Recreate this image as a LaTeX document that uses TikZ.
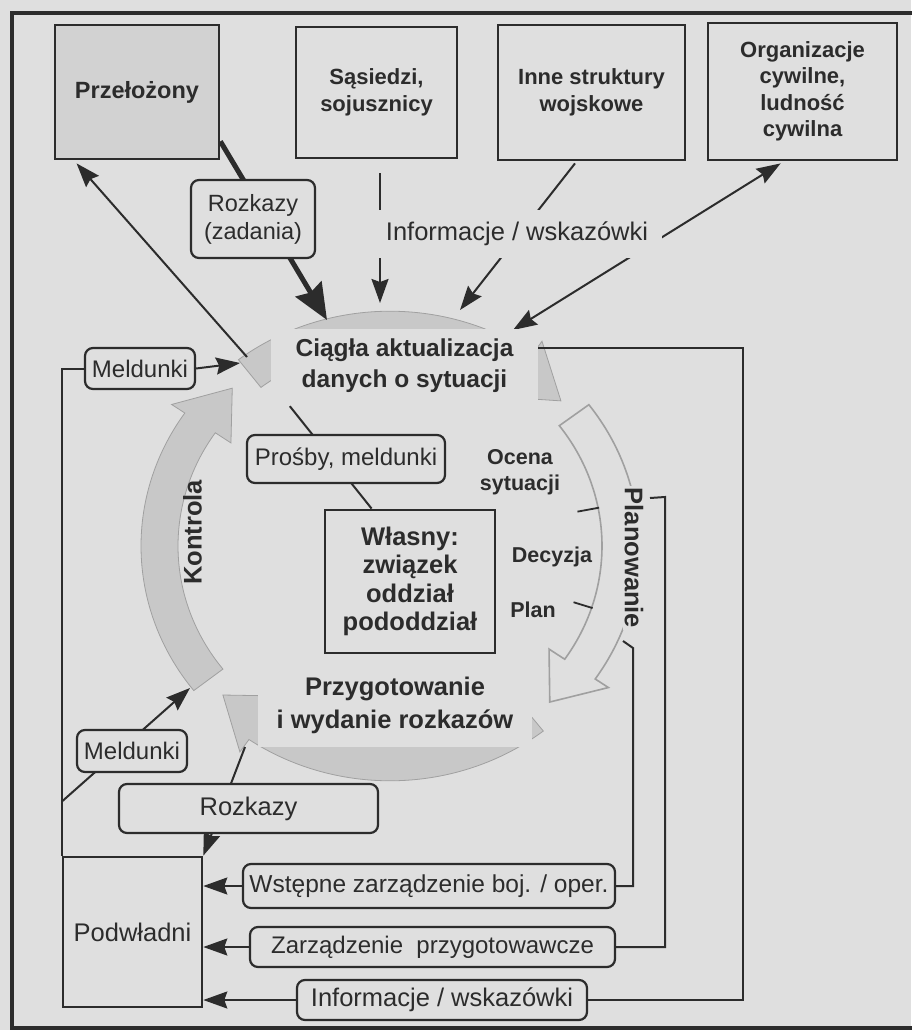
\documentclass[tikz,border=0pt]{standalone}
\usepackage{fontspec}
\setmainfont{Liberation Sans}
\usetikzlibrary{arrows.meta,calc}
\definecolor{paper}{HTML}{DFDFDF}
\definecolor{boss}{HTML}{D2D2D2}
\definecolor{ink}{HTML}{2C2C2C}
\definecolor{ringfill}{HTML}{C8C8C8}
\definecolor{ringedge}{HTML}{A0A0A0}
\newcommand\fsz[2]{\fontsize{#1}{#2}\selectfont}
% one block arrow of the command cycle: tail angle, barb angle, tip angle, style
\newcommand\ringpiece[4]{%
  \path[#4] (#1:212) arc[start angle=#1, end angle=#2, radius=212]
    -- (#2:193) -- (#3:230) -- (#2:265) -- (#2:249)
    arc[start angle=#2, end angle=#1, radius=249] -- cycle;}
\pgfdeclarelayer{paperlayer}
\pgfdeclarelayer{ringlayer}
\pgfdeclarelayer{linklayer}
\pgfsetlayers{paperlayer,ringlayer,linklayer,main}

\begin{document}
\begin{tikzpicture}[x=1pt,y=-1pt,
  every node/.style={text=ink, inner sep=0pt, align=center},
  actor/.style={draw=ink, line width=2.8pt, fill=paper, font=\bfseries\fsz{22}{26.5}},
  tag/.style={draw=ink, line width=2.2pt, rounded corners=8pt, fill=paper, font=\fsz{24}{28}},
  cover/.style={fill=paper, font=\bfseries\fsz{24.5}{31}},
  phase/.style={font=\bfseries\fsz{21.5}{26}},
  link/.style={draw=ink, line width=2pt},
  tipthin/.tip={Stealth[length=24pt,width=17pt,inset=3pt]},
  flow/.style={link, -tipthin},
  flowboth/.style={link, tipthin-tipthin},
  heavy/.style={draw=ink, line width=5pt, -{Stealth[length=36pt,width=30pt,inset=4pt]}},
  ring/.style={fill=ringfill, draw=ringedge, line width=0.8pt},
  ringline/.style={draw=ringedge, line width=1.6pt, fill=paper},
  tick/.style={draw=ink, line width=1.8pt},
]
\useasboundingbox (0,0) rectangle (911,1030);
\begin{pgfonlayer}{paperlayer}
  \fill[paper] (0,0) rectangle (911,1030);
\end{pgfonlayer}

% the command cycle
\begin{pgfonlayer}{ringlayer}
\begin{scope}[shift={(390,546)}, yscale=0.943]
  \ringpiece{-127.5}{-55}{-42}{ring}
  \ringpiece{-37}{34.5}{46}{ringline}
  \ringpiece{52}{124.5}{136.6}{ring}
  \ringpiece{142}{214.5}{226.7}{ring}
  \draw[tick] (-11:191) -- (-11:213);
  \draw[tick] (18:193) -- (18:213);
\end{scope}
\end{pgfonlayer}

% outer frame
\draw[ink, line width=3.5pt] (12,13) rectangle (935,1028);

% outside actors
\node[actor, fill=boss, font=\bfseries\fsz{23.5}{28}, minimum width=164pt, minimum height=134pt] (sup) at (137,92) {Przełożony};
\node[actor, minimum width=161pt, minimum height=131pt] (nbr) at (376.5,92.5) {Sąsiedzi,\\sojusznicy};
\node[actor, minimum width=187pt, minimum height=135pt] (mil) at (591.5,92.5) {Inne struktury\\wojskowe};
\node[actor, minimum width=189pt, minimum height=137pt] (civ) at (802.5,91.5) {Organizacje\\cywilne,\\ludność\\cywilna};

% cycle labels
\node[cover, minimum width=267pt, minimum height=73pt] (ciag) at (404.5,365.5) {Ciągła aktualizacja\\danych o sytuacji};
\node[cover, font=\bfseries\fsz{25.5}{33}, minimum width=274pt, minimum height=84pt] (prep) at (395,705) {Przygotowanie\\i wydanie rozkazów};
\node[font=\bfseries\fsz{25.5}{30}, rotate=90] (ctrl) at (192.5,532.5) {Kontrola};
\node[font=\bfseries\fsz{25.5}{30}, rotate=-90, fill=paper, inner sep=2pt] (plng) at (634,558) {Planowanie};
\node[phase] (ocena) at (520,472) {Ocena\\sytuacji};
\node[phase] (dec) at (552,557) {Decyzja};
\node[phase] (plan) at (533,610) {Plan};

% own unit
\node[draw=ink, line width=2.8pt, minimum width=170pt, minimum height=143pt, font=\bfseries\fsz{25.5}{28.5}] (own) at (410,581.5) {Własny:\\związek\\oddział\\pododdział};
\node[tag, minimum width=198pt, minimum height=48pt] (ask) at (346,459) {Prośby, meldunki};

% message labels
\node[tag, font=\fsz{23.5}{28}, minimum width=124pt, minimum height=78pt] (orders) at (253,219) {Rozkazy\\(zadania)};
\node[fill=paper, font=\fsz{25.5}{30}, minimum width=290pt, minimum height=48pt] (info) at (517,234) {Informacje / wskazówki};
\node[tag, minimum width=110pt, minimum height=41pt] (mel1) at (140,368.5) {Meldunki};
\node[tag, minimum width=110pt, minimum height=42pt] (mel2) at (132,751) {Meldunki};
\node[tag, font=\fsz{25.5}{30}, minimum width=259pt, minimum height=49pt] (rzk) at (248.5,808.5) {Rozkazy};

% subordinates and the orders they receive
\node[draw=ink, line width=2.6pt, font=\fsz{25.5}{30}, minimum width=139pt, minimum height=150pt] (sub) at (132.5,932) {Podwładni};
\node[tag, font=\fsz{24.5}{28}, minimum width=372pt, minimum height=44pt] (wst) at (429,886) {Wstępne zarządzenie boj. / oper.};
\node[tag, minimum width=365pt, minimum height=40pt] (zar) at (432.5,947) {Zarządzenie\ \ przygotowawcze};
\node[tag, font=\fsz{25.5}{30}, minimum width=290pt, minimum height=40pt] (inf2) at (442,1000) {Informacje / wskazówki};

% connector end points on the cycle
\coordinate (hitA) at (327,320);
\coordinate (hitB) at (380,303);
\coordinate (hitC) at (460,310);
\coordinate (hitD) at (513,330);
\coordinate (upA) at (247,357);
\coordinate (tailL) at (240,363);
\coordinate (kbot) at (190,688);
\coordinate (pbot) at (245,747);
\coordinate (planEnd) at (623,641);
\coordinate (planTop) at (650,498);

\begin{pgfonlayer}{linklayer}
  \draw[heavy] ($(sup.south east)+(0,-19)$) -- (hitA);
  \draw[flow] (upA) -- ($(sup.south west)+(23,3)$);
  \draw[flow] ($(nbr.south)+(3.5,14)$) -- (hitB);
  \draw[flow] ($(mil.south)+(-16.5,2)$) -- (hitC);
  \draw[flowboth] (hitD) -- ($(civ.south west)+(74,2)$);

  \draw[flow] (mel1.east) -- (tailL);
  \draw[link] (mel1.west) -| (sub.north west);
  \draw[flow] ($(sub.north west)+(0,-54)$) -- (kbot);
  \draw[flow] (pbot) -- (sub.north east);
  \draw[flow] (wst.west) -- (wst.west -| sub.east);
  \draw[flow] (zar.west) -- (zar.west -| sub.east);
  \draw[flow] (inf2.west) -- (inf2.west -| sub.east);

  \draw[link] (planEnd) -- ++(10,7) |- (wst.east);
  \draw[link] (planTop) -- ++(15,-1) |- (zar.east);
  \draw[link] ($(ciag.north east)+(0,19)$) -- ++(205,0) |- (inf2.east);

  \draw[link] ($(ciag.south west)+(19,4)$) -- ($(own.north west)+(48,0)$);
\end{pgfonlayer}
\end{tikzpicture}
\end{document}
